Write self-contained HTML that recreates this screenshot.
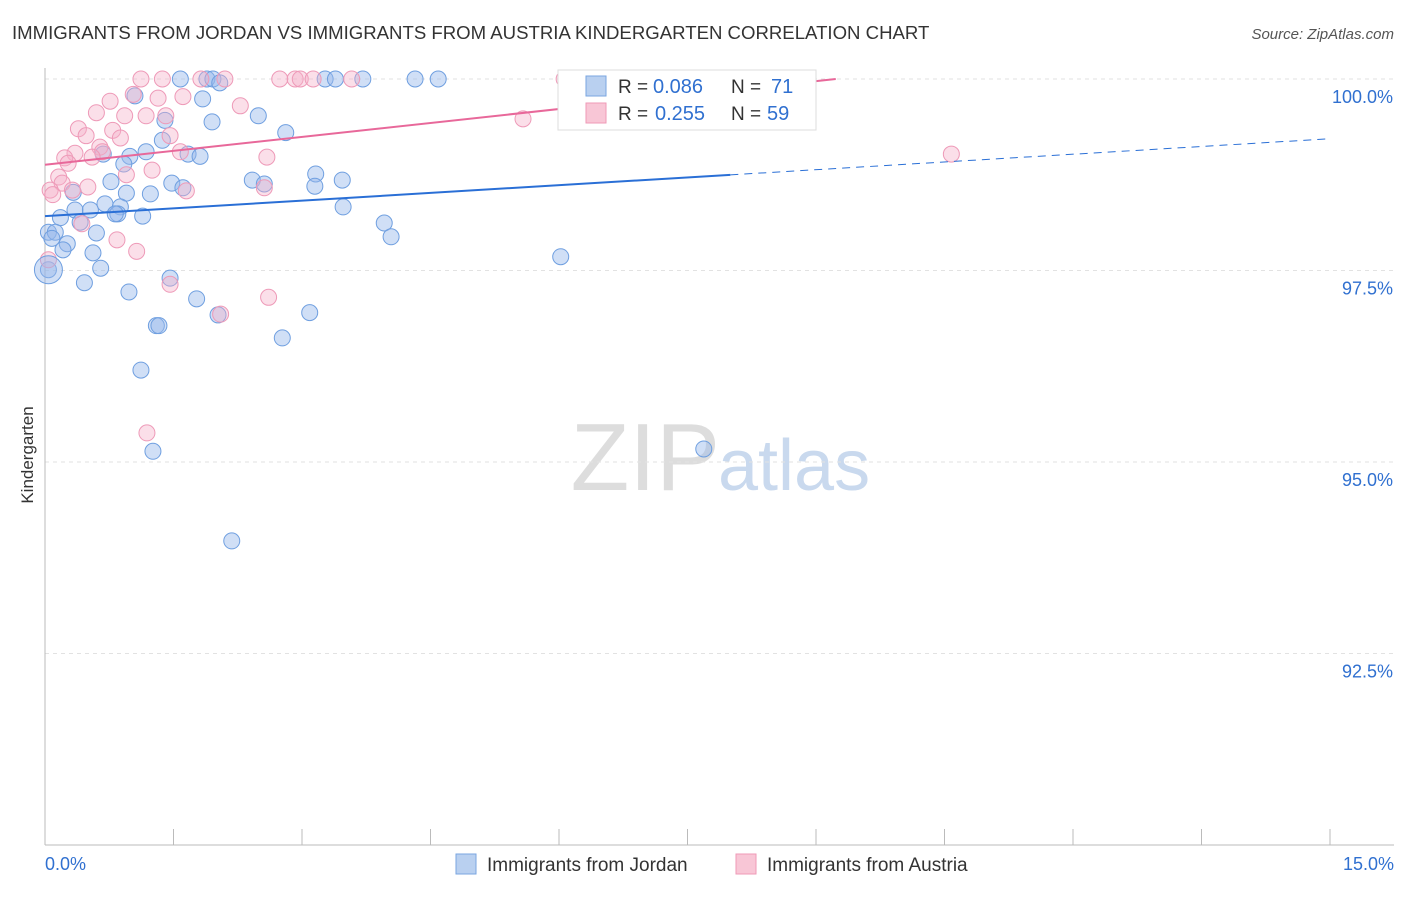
<!DOCTYPE html>
<html><head><meta charset="utf-8"><style>
body{margin:0;background:#fff;font-family:"Liberation Sans",sans-serif;}
svg text{font-family:"Liberation Sans",sans-serif;}
</style></head><body>
<svg id="chart" width="1406" height="892">
<text x="12" y="39" font-size="18.6" fill="#333">IMMIGRANTS FROM JORDAN VS IMMIGRANTS FROM AUSTRIA KINDERGARTEN CORRELATION CHART</text>
<text x="1394" y="39" font-size="15" fill="#555" font-style="italic" text-anchor="end">Source: ZipAtlas.com</text>
<text x="720" y="490" font-size="96" fill="#ddd" text-anchor="end" font-family="Liberation Serif">ZIP</text>
<text x="718" y="490" font-size="72" fill="#c9d9ee">atlas</text>
<text x="33" y="455" font-size="17" fill="#333" transform="rotate(-90 33 455)" text-anchor="middle">Kindergarten</text>
<g id="grid"></g><g id="pts"></g><g id="lines"></g>
<g>
<rect x="558" y="70" width="258" height="60" fill="#fff" stroke="#ddd"/>
<rect x="586" y="76" width="20" height="20" fill="#b9d0f0" stroke="#7aa6e0"/>
<rect x="586" y="103" width="20" height="20" fill="#f8c6d6" stroke="#ef9ab7"/>
<text x="618" y="93" font-size="19" fill="#333">R = </text><text x="653" y="93" font-size="20" fill="#3070d0">0.086</text>
<text x="731" y="93" font-size="19" fill="#333">N = </text><text x="771" y="93" font-size="20" fill="#3070d0">71</text>
<text x="618" y="120" font-size="19" fill="#333">R = </text><text x="655" y="120" font-size="20" fill="#3070d0">0.255</text>
<text x="731" y="120" font-size="19" fill="#333">N = </text><text x="767" y="120" font-size="20" fill="#3070d0">59</text>
</g>
<g>
<rect x="456" y="854" width="20" height="20" fill="#b9d0f0" stroke="#7aa6e0"/>
<text x="487" y="871" font-size="19" fill="#333">Immigrants from Jordan</text>
<rect x="736" y="854" width="20" height="20" fill="#f8c6d6" stroke="#ef9ab7"/>
<text x="767" y="871" font-size="19" fill="#333">Immigrants from Austria</text>
</g>
<text x="45" y="870" font-size="18" fill="#3070d0">0.0%</text>
<text x="1394" y="870" font-size="18" fill="#3070d0" text-anchor="end">15.0%</text>
</svg>
<script>
const yTicks=[100,97.5,95,92.5];
const yTickLabels=["100.0%","97.5%","95.0%","92.5%"];
const xTicks=[0,1.5,3,4.5,6,7.5,9,10.5,12,13.5,15];
const jordanX=[1.58,1.89,1.96,2.04,3.27,3.39,3.71,4.32,4.59,1.84,2.49,1.95,2.81,1.37,1.05,1.40,1.18,0.99,0.68,1.67,1.81,0.92,0.77,1.48,1.61,2.42,2.56,3.16,3.47,3.15,0.33,0.95,1.23,0.18,0.35,0.53,0.70,0.88,0.85,0.82,1.14,0.41,3.48,3.96,4.04,0.04,0.12,0.08,0.26,0.21,0.60,0.56,0.65,0.46,0.04,1.46,1.77,0.98,2.02,3.09,1.30,1.33,2.77,1.12,6.02,1.26,7.69,2.18];
const jordanY=[100,100,100,99.95,100,100,100,100,100,99.74,99.52,99.44,99.30,99.20,99.78,99.46,99.05,98.99,99.02,99.02,98.99,98.89,98.66,98.64,98.58,98.68,98.63,98.76,98.68,98.60,98.52,98.51,98.50,98.19,98.29,98.29,98.37,98.33,98.24,98.24,98.21,98.13,98.33,98.12,97.94,98.00,98.00,97.92,97.85,97.77,97.99,97.73,97.53,97.34,97.51,97.40,97.13,97.22,96.92,96.95,96.78,96.78,96.62,96.20,97.68,95.14,95.17,93.97];
const austriaX=[1.12,1.37,1.82,2.10,2.74,2.92,2.98,3.13,3.58,6.06,8.11,1.03,1.32,1.61,0.76,2.28,0.60,0.93,1.18,1.41,0.39,0.79,1.46,0.48,0.88,0.64,0.35,0.67,0.23,0.55,1.58,2.59,0.27,1.25,0.95,0.16,0.20,0.50,0.32,1.65,2.56,0.06,0.09,0.43,0.84,1.07,1.46,2.61,2.05,1.19,5.58,10.58,0.04];
const austriaY=[100,100,100,100,100,100,100,100,100,100,100,99.80,99.75,99.77,99.71,99.65,99.56,99.52,99.52,99.52,99.35,99.33,99.26,99.26,99.23,99.11,99.03,99.05,98.97,98.98,99.05,98.98,98.90,98.81,98.75,98.72,98.64,98.59,98.55,98.54,98.58,98.55,98.49,98.11,97.90,97.75,97.32,97.15,96.93,95.38,99.48,99.02,97.64];
const jordanTrend=[98.21,99.22];
const austriaTrend=[98.88,100.7];
const X=v=>45+v/15*1285, Y=v=>79+(100-v)*76.6;
const NS="http://www.w3.org/2000/svg";
function mk(t,a,p){const e=document.createElementNS(NS,t);for(const k in a)e.setAttribute(k,a[k]);p.appendChild(e);return e;}
const g=document.getElementById('grid');
yTicks.forEach((t,i)=>{
 const l=mk('line',{x1:45,x2:1394,y1:Y(t),y2:Y(t),stroke:'#e2e2e2','stroke-dasharray':'4,4'},g);
 
 
 const tx=mk('text',{x:1393,y:Y(t)+24,'font-size':18,fill:'#3070d0','text-anchor':'end'},g);
 tx.textContent=yTickLabels[i];
 
 
});
const ax=mk('line',{x1:45,x2:45,y1:68,y2:845,stroke:'#bbb'},g);


const bx=mk('line',{x1:45,x2:1394,y1:845,y2:845,stroke:'#bbb'},g);


xTicks.forEach(t=>{const l=mk('line',{x1:X(t),x2:X(t),y1:829,y2:845,stroke:'#bbb'},g);
 
 });
const p=document.getElementById('pts');
jordanX.forEach((x,i)=>{const c=mk('circle',{cx:X(x),cy:Y(jordanY[i]),r:8,fill:'rgba(150,185,235,0.45)',stroke:'#6f9fe0','stroke-width':1},p);
 
 });
austriaX.forEach((x,i)=>{const c=mk('circle',{cx:X(x),cy:Y(austriaY[i]),r:8,fill:'rgba(245,175,200,0.4)',stroke:'#ee9ab8','stroke-width':1},p);
 
 });
const big=mk('circle',{cx:X(0.04),cy:Y(97.51),r:14,fill:'rgba(150,185,235,0.45)',stroke:'#6f9fe0'},p);


const L=document.getElementById('lines');
const jy=x=>jordanTrend[0]+(jordanTrend[1]-jordanTrend[0])*x/15;
const l1=mk('line',{x1:X(0),y1:Y(jy(0)),x2:X(8),y2:Y(jy(8)),stroke:'#2a6fd6','stroke-width':2},L);


const l2=mk('line',{x1:X(8),y1:Y(jy(8)),x2:X(15),y2:Y(jy(15)),stroke:'#2a6fd6','stroke-width':1,'stroke-dasharray':'8,6'},L);


const ay=x=>austriaTrend[0]+(austriaTrend[1]-austriaTrend[0])*x/15;
const xe=(100-austriaTrend[0])/(austriaTrend[1]-austriaTrend[0])*15;
const l3=mk('line',{x1:X(0),y1:Y(ay(0)),x2:X(xe),y2:Y(100),stroke:'#e8689a','stroke-width':2},L);


</script>
</body></html>
